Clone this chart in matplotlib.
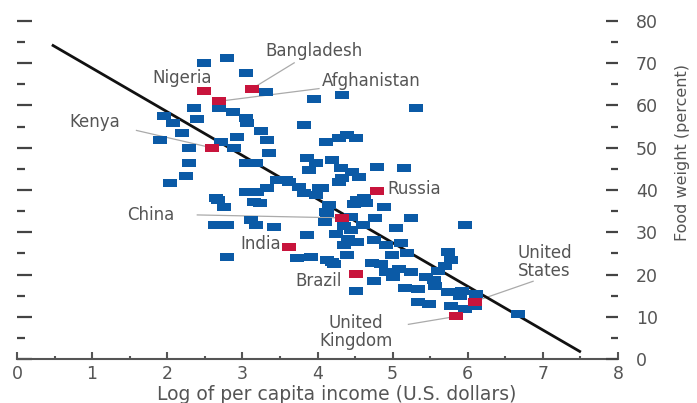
import matplotlib.pyplot as plt
from matplotlib.ticker import MultipleLocator

# blue squares: all countries
log_income = [2.49, 2.80, 3.05, 3.31, 3.95, 4.32, 5.31, 2.35, 2.69, 2.87,
              1.96, 2.07, 2.39, 3.05, 3.06, 2.19, 3.25, 2.93, 1.90, 3.33,
              2.29, 2.72, 2.89, 3.36, 2.29, 2.25, 2.03, 2.65, 3.05, 3.18,
              3.82, 4.11, 4.28, 4.39, 4.51, 3.86, 3.98, 3.89, 4.19, 4.31,
              4.46, 4.55, 4.32, 4.79, 5.15, 3.58, 3.75, 4.02, 4.62, 3.46,
              3.05, 3.20, 3.33, 3.62, 3.82, 3.98, 4.06, 2.67, 2.76, 3.16,
              3.23, 2.63, 2.80, 3.12, 3.18, 3.42, 4.12, 4.10, 3.86, 2.79,
              3.73, 3.91, 4.12, 4.22, 4.52, 4.64, 4.88, 4.48, 4.11, 4.44,
              4.77, 5.24, 5.97, 5.05, 4.44, 4.52, 4.75, 4.91, 5.11, 4.99,
              5.19, 5.74, 5.78, 5.70, 4.19, 4.72, 4.85, 4.91, 5.08, 5.25,
              5.44, 4.75, 5.01, 4.51, 5.17, 5.34, 5.57, 5.74, 5.92, 5.34,
              5.48, 5.78, 6.11, 6.67, 5.97, 6.10, 5.90, 4.28, 4.15, 4.35,
              4.25, 4.40, 4.60, 4.35, 4.39, 5.60, 5.55]
food_weight = [70.1, 71.3, 67.8, 63.3, 61.6, 62.4, 59.3, 59.5, 59.5, 58.4,
               57.6, 55.8, 56.7, 57.0, 55.8, 53.6, 53.9, 52.5, 51.8, 51.8,
               49.9, 51.3, 49.9, 48.7, 46.4, 43.3, 41.6, 38.0, 46.4, 46.4,
               55.3, 51.3, 52.2, 52.9, 52.2, 47.5, 46.4, 44.7, 47.0, 45.2,
               44.2, 43.1, 42.8, 45.4, 45.2, 42.4, 40.7, 40.5, 38.1, 42.4,
               39.5, 39.5, 40.5, 41.9, 39.3, 38.8, 40.5, 37.6, 36.0, 37.2,
               36.9, 31.8, 31.8, 32.9, 31.8, 31.3, 34.6, 32.5, 29.4, 24.2,
               24.0, 24.2, 23.5, 22.4, 37.6, 36.9, 36.0, 36.8, 34.8, 33.6,
               33.4, 33.4, 31.8, 31.0, 30.6, 27.8, 28.2, 27.1, 27.5, 24.7,
               25.2, 25.4, 23.5, 21.9, 23.0, 22.8, 22.4, 20.7, 21.2, 20.5,
               19.5, 18.4, 19.5, 16.0, 16.9, 16.5, 17.2, 15.8, 16.0, 13.4,
               12.9, 12.5, 15.3, 10.6, 11.8, 12.5, 14.8, 41.9, 36.5, 31.5,
               29.5, 28.5, 31.8, 27.0, 24.7, 20.8, 18.8]

# red squares: named countries
countries = ['Nigeria', 'Bangladesh', 'Afghanistan', 'Kenya', 'Russia', 'China',
             'India', 'Brazil', 'United\nStates', 'United\nKingdom']
country_x = [2.49, 3.13, 2.69, 2.59, 4.79, 4.32, 3.62, 4.51, 6.09, 5.85]
country_y = [63.5, 64.0, 61.0, 50.0, 39.8, 33.4, 26.6, 20.2, 13.6, 10.1]

# fitted line
fit_x = [0.48, 7.49]
fit_y = [74.2, 1.8]

blue = '#0b5aa6'
red = '#c8143c'
grey = '#555555'
rect = [(-1, -0.6), (1, -0.6), (1, 0.6), (-1, 0.6), (-1, -0.6)]

plt.rcParams['font.family'] = ['DejaVu Sans']

fig = plt.figure(figsize=(6.97, 4.03), dpi=100)
ax = fig.add_axes([17/697, 44/403, 601/697, 338/403])

ax.plot(fit_x, fit_y, color='#111111', lw=2, zorder=2, clip_on=False)
ax.scatter(log_income, food_weight, marker=rect, s=100, color=blue,
           linewidths=0, zorder=3, clip_on=False)
ax.scatter(country_x, country_y, marker=rect, s=100, color=red,
           linewidths=0, zorder=4, clip_on=False)

# labels: (text x, text y, ha, leader line end or None)
label_pos = {
    'Nigeria': (2.59, 66.4, 'right', None),
    'Bangladesh': (3.30, 73.0, 'left', (3.69, 70.1)),
    'Afghanistan': (4.06, 65.9, 'left', (4.02, 64.0)),
    'Kenya': (0.70, 56.0, 'left', (1.59, 54.1)),
    'Russia': (4.93, 40.2, 'left', None),
    'China': (1.46, 34.1, 'left', (2.40, 34.1)),
    'India': (3.51, 27.3, 'right', None),
    'Brazil': (4.32, 18.4, 'right', None),
    'United\nStates': (7.02, 23.0, 'center', (6.87, 18.4)),
    'United\nKingdom': (4.51, 6.4, 'center', (5.21, 8.2)),
}
for name, cx, cy in zip(countries, country_x, country_y):
    tx, ty, ha, lead = label_pos[name]
    ax.text(tx, ty, name, ha=ha, va='center', fontsize=12, color=grey,
            linespacing=1.0, zorder=5)
    if lead is not None:
        ax.plot([lead[0], cx], [lead[1], cy], color='#aaaaaa', lw=0.9, zorder=1)

ax.set_xlim(0, 8)
ax.set_ylim(0, 80)
for side in ['top', 'right', 'left']:
    ax.spines[side].set_visible(False)
ax.spines['bottom'].set_color(grey)
ax.spines['bottom'].set_linewidth(1.5)

ax.xaxis.set_major_locator(MultipleLocator(1))
ax.xaxis.set_minor_locator(MultipleLocator(0.5))
ax.tick_params(axis='x', which='major', direction='in', length=5, width=1.5,
               color=grey, labelsize=12.5, labelcolor=grey, pad=4)
ax.tick_params(axis='x', which='minor', direction='in', length=2, width=1.5,
               color=grey)

ax.yaxis.set_major_locator(MultipleLocator(10))
ax.yaxis.set_minor_locator(MultipleLocator(5))
ax.tick_params(axis='y', which='major', direction='in', length=11, width=1.6,
               color='#444444', labelleft=False)
ax.tick_params(axis='y', which='minor', direction='in', length=6, width=1.6,
               color='#444444')

ax2 = ax.twinx()
ax2.set_ylim(0, 80)
for side in ['top', 'right', 'left', 'bottom']:
    ax2.spines[side].set_visible(False)
ax2.yaxis.set_major_locator(MultipleLocator(10))
ax2.yaxis.set_minor_locator(MultipleLocator(5))
ax2.tick_params(axis='y', which='major', direction='in', length=9, width=1.6,
                color='#444444', labelsize=12.5, labelcolor=grey, pad=13)
ax2.tick_params(axis='y', which='minor', direction='in', length=5, width=1.6,
                color='#444444')

fig.text(0.483, 1 - 395/403, 'Log of per capita income (U.S. dollars)',
         ha='center', va='center', fontsize=13.5, color=grey)
fig.text(682/697, 1 - 153/403, 'Food weight (percent)', rotation=90,
         ha='center', va='center', fontsize=11.5, color=grey)

fig.savefig('out.png', dpi=100)
